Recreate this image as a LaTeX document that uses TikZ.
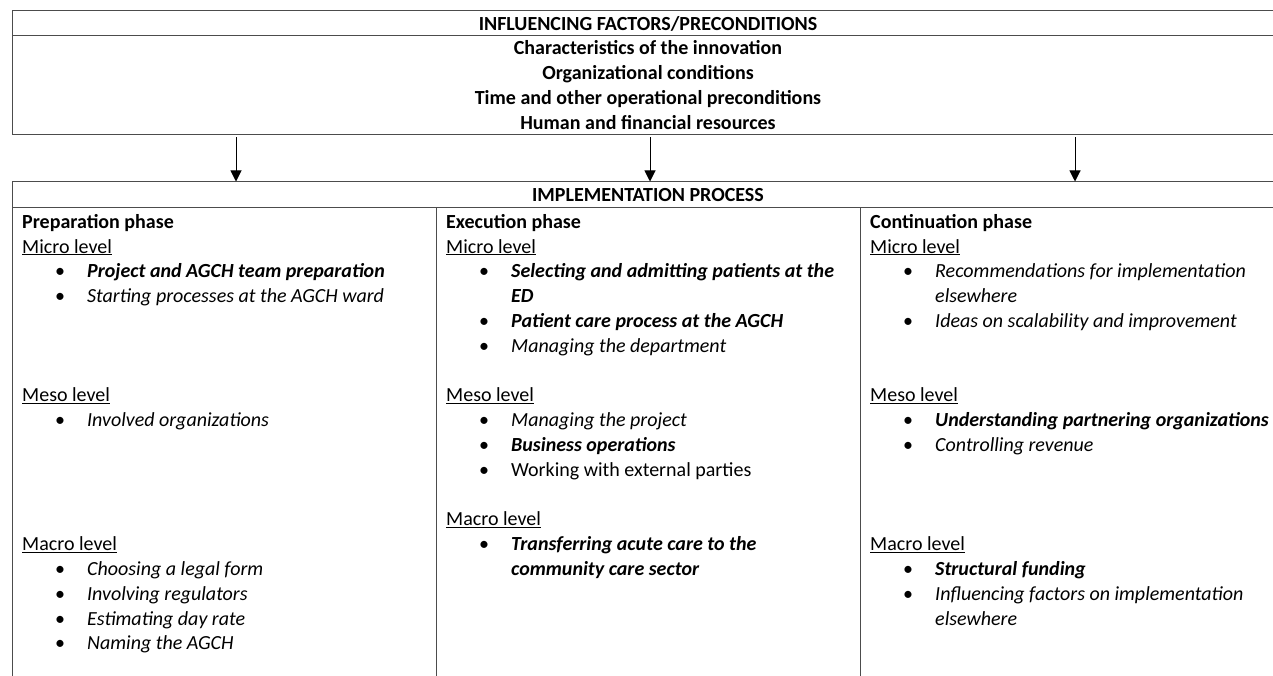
\documentclass[tikz,border=0pt]{standalone}
\usepackage{fontspec}
\setmainfont{Carlito}
\usepackage{tikz}
\usetikzlibrary{positioning,arrows.meta}
\setlength{\parindent}{0pt}
\newcommand{\itm}[1]{\par\hangindent=65pt\hangafter=1\noindent\hspace*{33pt}\makebox[32pt][l]{\textbullet}#1}
\newcommand{\lvl}[1]{\par\noindent\underline{#1}}
\newcommand{\gap}{\par\noindent\mbox{}}

\begin{document}
\begin{tikzpicture}[x=1pt,y=-1pt,
    box/.style={draw=black!70, line width=1pt, inner sep=0pt},
    coltext/.style={anchor=north west, inner sep=0pt, text width=420pt, align=flush left, font=\fontsize{20}{24.8}\selectfont},
    arr/.style={-{Triangle[width=11pt,length=11pt]}, line width=1pt, shorten <=2pt}]
    \useasboundingbox (0,0) rectangle (1273,676);
    \clip (0,0) rectangle (1273,676);

    %Nodes
    \node[box, minimum width=1272pt, minimum height=25pt, font=\fontsize{20}{25}\selectfont\bfseries] at (648,23.5) (inflhead) {INFLUENCING FACTORS/PRECONDITIONS};
    \node[box, minimum width=1272pt, minimum height=99pt, align=center, font=\fontsize{20}{25}\selectfont\bfseries] at (648,85.5) (inflbody) {Characteristics of the innovation\\Organizational conditions\\Time and other operational preconditions\\Human and financial resources};
    \node[box, minimum width=1272pt, minimum height=26pt, font=\fontsize{20}{25}\selectfont\bfseries] at (648,195) (implhead) {IMPLEMENTATION PROCESS};
    \node[box, minimum width=424pt, minimum height=492pt] at (224,454) (prepcol) {};
    \node[box, minimum width=424pt, minimum height=492pt] at (648,454) (execcol) {};
    \node[box, minimum width=424pt, minimum height=492pt] at (1072,454) (contcol) {};

    %Column texts
    \node[coltext] at (22,214) (preptext) {\textbf{Preparation phase}
        \lvl{Micro level}
        \itm{\textbf{\textit{Project and AGCH team preparation}}}
        \itm{\textit{Starting processes at the AGCH ward}}
        \gap\gap\gap
        \lvl{Meso level}
        \itm{\textit{Involved organizations}}
        \gap\gap\gap\gap
        \lvl{Macro level}
        \itm{\textit{Choosing a legal form}}
        \itm{\textit{Involving regulators}}
        \itm{\textit{Estimating day rate}}
        \itm{\textit{Naming the AGCH}}\par};
    \node[coltext] at (446,214) (exectext) {\textbf{Execution phase}
        \lvl{Micro level}
        \itm{\textbf{\textit{Selecting and admitting patients at the\newline ED}}}
        \itm{\textbf{\textit{Patient care process at the AGCH}}}
        \itm{\textit{Managing the department}}
        \gap
        \lvl{Meso level}
        \itm{\textit{Managing the project}}
        \itm{\textbf{\textit{Business operations}}}
        \itm{Working with external parties}
        \gap
        \lvl{Macro level}
        \itm{\textbf{\textit{Transferring acute care to the\newline community care sector}}}\par};
    \node[coltext] at (870,214) (conttext) {\textbf{Continuation phase}
        \lvl{Micro level}
        \itm{\textit{Recommendations for implementation\newline elsewhere}}
        \itm{\textit{Ideas on scalability and improvement}}
        \gap\gap
        \lvl{Meso level}
        \itm{\textbf{\textit{Understanding partnering organizations}}}
        \itm{\textit{Controlling revenue}}
        \gap\gap\gap
        \lvl{Macro level}
        \itm{\textbf{\textit{Structural funding}}}
        \itm{\textit{Influencing factors on implementation\newline elsewhere}}\par};

    %Arrows
    \foreach \x in {236,650,1075}
        \draw[arr] (inflbody.south -| \x,0) -- (implhead.north -| \x,0);
\end{tikzpicture}
\end{document}
